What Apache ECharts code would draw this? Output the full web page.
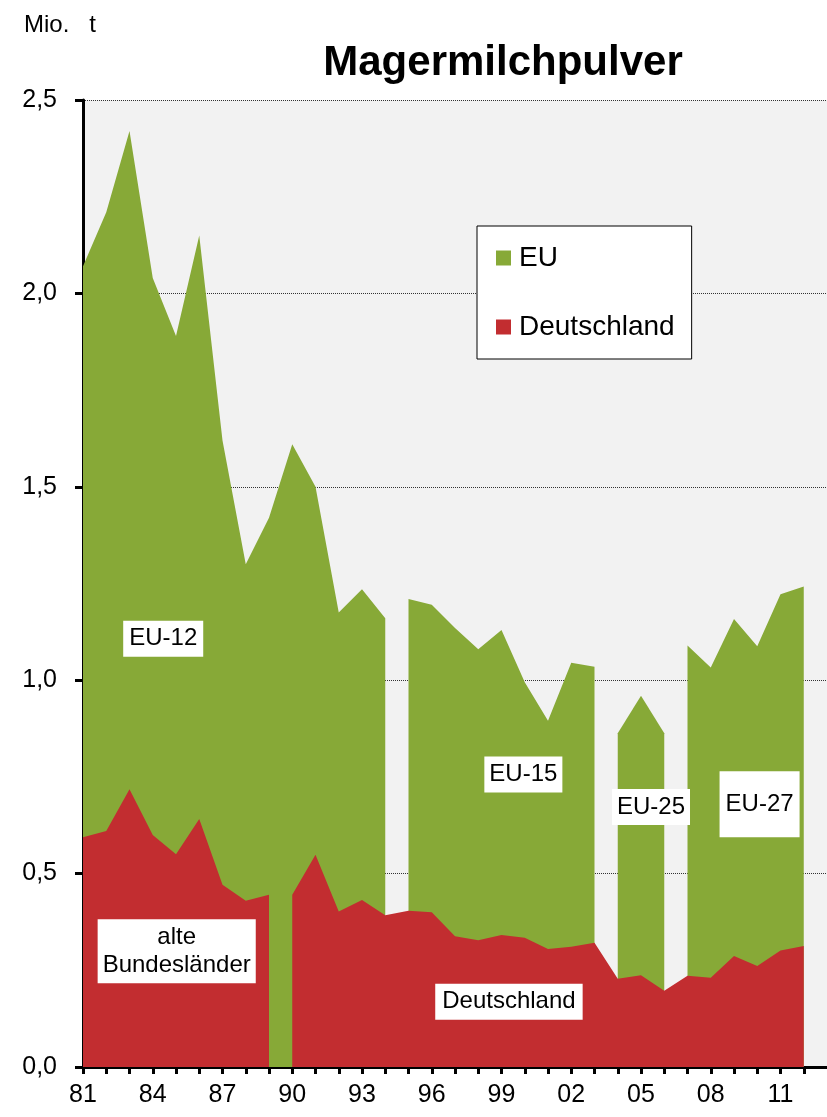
<!DOCTYPE html>
<html>
<head>
<meta charset="utf-8">
<script src="https://cdn.jsdelivr.net/npm/echarts@6/dist/echarts.min.js"></script>
<style>
  html, body { margin: 0; padding: 0; background: #fff; }
  #chart { width: 827px; height: 1117px; }
</style>
</head>
<body>
<div id="chart"></div>
<script>
// Magermilchpulver-Erzeugung, Mio. t
const years = [1981, 1982, 1983, 1984, 1985, 1986, 1987, 1988, 1989, 1990, 1991,
  1992, 1993, 1994, 1995, 1996, 1997, 1998, 1999, 2000, 2001, 2002, 2003,
  2004, 2005, 2006, 2007, 2008, 2009, 2010, 2011, 2012];
const euValues = [2.07, 2.21, 2.42, 2.04, 1.89, 2.15, 1.62, 1.30, 1.42, 1.61, 1.50,
  1.175, 1.235, 1.16, 1.21, 1.195, 1.135, 1.08, 1.13, 0.995, 0.895, 1.045, 1.035,
  0.863, 0.96, 0.863, 1.09, 1.033, 1.158, 1.088, 1.222, 1.242];
const deValues = [0.594, 0.61, 0.718, 0.60, 0.55, 0.641, 0.471, 0.43, 0.445, 0.445, 0.549,
  0.402, 0.432, 0.392, 0.404, 0.40, 0.338, 0.328, 0.341, 0.334, 0.305, 0.311, 0.321,
  0.228, 0.237, 0.197, 0.236, 0.231, 0.287, 0.261, 0.301, 0.313];
// Gebietsstand: [Beschriftung, von, bis]
const euBlocks = [['EU-12', 1981, 1994], ['EU-15', 1995, 2003], ['EU-25', 2004, 2006], ['EU-27', 2007, 2012]];
const deBlocks = [['alte\nBundesländer', 1981, 1989], ['Deutschland', 1990, 2012]];
const yTicks = [0, 0.5, 1.0, 1.5, 2.0, 2.5];

const GREEN = '#87a937';
const RED = '#c22d30';
const FONT = '"Liberation Sans", Arial, sans-serif';

// where the white label boxes sit (data coords) and their padding
const labelSpots = {
  'EU-12': { at: [1984.45, 1.107], pad: [6, 6] },
  'EU-15': { at: [1999.94, 0.756], pad: [6, 5] },
  'EU-25': { at: [2005.43, 0.672], pad: [6, 5] },
  'EU-27': { at: [2010.10, 0.679], pad: [21, 6] },
  'alte\nBundesländer': { at: [1985.03, 0.299], pad: [4, 5] },
  'Deutschland': { at: [1999.32, 0.169], pad: [6, 7] }
};

function slice(values, from, to) {
  const out = [];
  years.forEach((y, i) => {
    if (y >= from && y <= to) out.push([y, values[i]]);
  });
  return out;
}

function blockSeries(name, color, block, values) {
  const [label, from, to] = block;
  const spot = labelSpots[label];
  return {
    name: name,
    type: 'line',
    data: slice(values, from, to),
    symbol: 'none',
    color: color,
    lineStyle: { width: 0 },
    areaStyle: { color: color, opacity: 1 },
    silent: true,
    markPoint: {
      symbol: 'circle',
      symbolSize: 1,
      itemStyle: { color: 'rgba(0,0,0,0)' },
      data: [{
        coord: spot.at,
        label: {
          show: true,
          position: 'inside',
          formatter: label,
          color: '#000',
          fontSize: 24,
          lineHeight: label.indexOf('\n') >= 0 ? 28 : 24,
          fontFamily: FONT,
          align: 'center',
          backgroundColor: '#fff',
          padding: spot.pad
        }
      }]
    }
  };
}

const series = [];
euBlocks.forEach(b => series.push(blockSeries('EU', GREEN, b, euValues)));
deBlocks.forEach(b => series.push(blockSeries('Deutschland', RED, b, deValues)));

const chart = echarts.init(document.getElementById('chart'), null, { renderer: 'canvas' });
chart.setOption({
  animation: false,
  backgroundColor: '#fff',
  textStyle: { fontFamily: FONT },
  title: [
    {
      text: 'Magermilchpulver',
      left: 498,
      top: 37,
      textAlign: 'center',
      textStyle: { fontSize: 42, fontWeight: 'bold', color: '#000', fontFamily: FONT }
    },
    {
      text: 'Mio.   t',
      left: 19,
      top: 8,
      textStyle: { fontSize: 24, fontWeight: 'normal', color: '#000', fontFamily: FONT }
    }
  ],
  legend: {
    data: ['EU', 'Deutschland'],
    orient: 'vertical',
    left: 477,
    top: 226,
    padding: [18, 17, 18, 19],
    itemGap: 41,
    itemWidth: 15,
    itemHeight: 15,
    icon: 'rect',
    selectedMode: false,
    backgroundColor: '#fff',
    borderColor: '#000',
    borderWidth: 1,
    textStyle: { fontSize: 28, lineHeight: 28, color: '#000', fontFamily: FONT, padding: [0, 0, 0, 3] }
  },
  grid: {
    left: 83,
    top: 100,
    width: 746,
    height: 967,
    show: true,
    backgroundColor: '#f2f2f2',
    borderWidth: 0
  },
  xAxis: {
    type: 'value',
    min: 1981,
    max: 2013,
    interval: 1,
    axisLine: { lineStyle: { color: '#000', width: 3 } },
    axisTick: { show: true, length: 7, lineStyle: { color: '#000', width: 3 } },
    splitLine: { show: false },
    axisLabel: {
      margin: 16,
      fontSize: 25,
      color: '#000',
      fontFamily: FONT,
      showMaxLabel: false,
      formatter: v => ((v - years[0]) % 3 === 0 && v <= years[years.length - 1])
        ? String(v % 100).padStart(2, '0') : ''
    }
  },
  yAxis: {
    type: 'value',
    min: yTicks[0],
    max: yTicks[yTicks.length - 1],
    interval: 0.5,
    axisLine: { show: true, lineStyle: { color: '#000', width: 3 } },
    axisTick: { show: true, length: 8, lineStyle: { color: '#000', width: 3 } },
    splitLine: { show: true, lineStyle: { color: '#333', width: 1, type: [1, 1] } },
    axisLabel: {
      margin: 26,
      fontSize: 25,
      color: '#000',
      fontFamily: FONT,
      formatter: v => v.toFixed(1).replace('.', ',')
    }
  },
  series: series
});
</script>
</body>
</html>
